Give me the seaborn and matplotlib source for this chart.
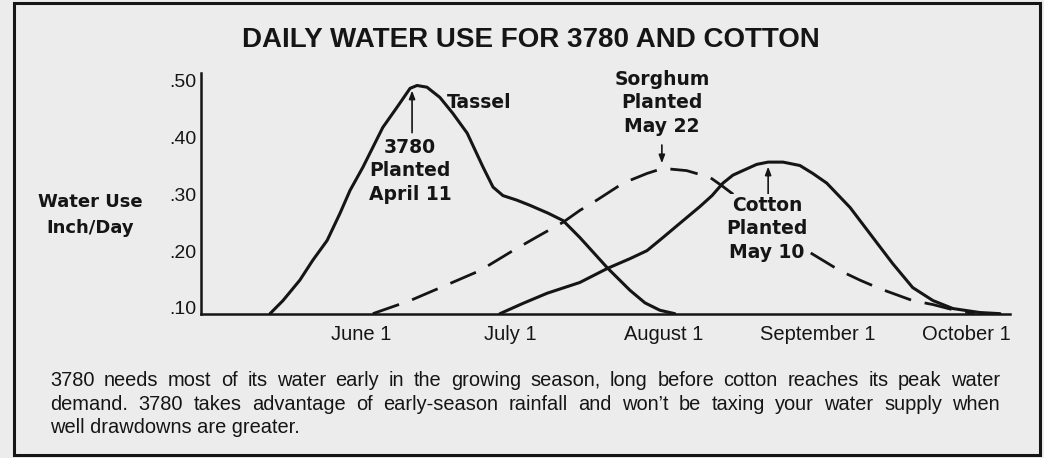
import matplotlib
matplotlib.use("Agg")
import matplotlib.pyplot as plt
import matplotlib.patches as mpatches
import seaborn as sns
import pandas as pd

# ---------------------------
# Data (day of year vs inch/day)
# ---------------------------
day_3780 = [133.7, 136.3, 139.7, 142.3, 145.2, 147.8, 149.8, 152.4, 156.4, 159.3,
            161.9, 163.3, 165.3, 167.9, 170.5, 173.4, 176.6, 178.6, 180.6, 183.4,
            186.0, 189.7, 192.7, 196.1, 201.7, 206.2, 209.2, 212.2, 215.2]
use_3780 = [0.090, 0.113, 0.149, 0.184, 0.219, 0.267, 0.307, 0.348, 0.418, 0.454,
            0.487, 0.492, 0.489, 0.471, 0.443, 0.408, 0.348, 0.313, 0.298, 0.290,
            0.281, 0.267, 0.254, 0.224, 0.170, 0.131, 0.109, 0.096, 0.090]

day_sorghum = [154.4, 161.9, 169.9, 176.0, 179.4, 182.6, 188.0, 192.7, 196.1, 199.5,
               204.8, 209.6, 212.8, 217.6, 222.3, 224.9, 233.3, 241.8, 248.4, 252.5,
               256.5, 263.1, 267.2, 271.6, 275.6]
use_sorghum = [0.090, 0.113, 0.143, 0.166, 0.184, 0.201, 0.228, 0.251, 0.272, 0.290,
               0.320, 0.337, 0.346, 0.342, 0.330, 0.314, 0.258, 0.201, 0.166, 0.149,
               0.134, 0.113, 0.106, 0.096, 0.090]

day_cotton = [180.0, 184.6, 189.5, 196.1, 201.7, 206.2, 209.6, 212.8, 216.2, 220.3,
              222.7, 224.9, 226.9, 228.9, 231.7, 234.0, 237.0, 240.4, 243.0, 245.8,
              250.5, 255.1, 259.1, 263.1, 267.2, 271.2, 276.6, 280.7]
use_cotton = [0.090, 0.108, 0.126, 0.145, 0.170, 0.187, 0.201, 0.224, 0.249, 0.279,
              0.298, 0.320, 0.334, 0.342, 0.353, 0.357, 0.357, 0.351, 0.337, 0.320,
              0.277, 0.224, 0.178, 0.136, 0.113, 0.099, 0.092, 0.090]

month_days = [152, 182, 213, 244, 274]
month_labels = ["June 1", "July 1", "August 1", "September 1", "October 1"]
y_ticks = [0.10, 0.20, 0.30, 0.40, 0.50]
y_labels = [".10", ".20", ".30", ".40", ".50"]

caption = [
    "3780 needs most of its water early in the growing season, long before cotton reaches its peak water",
    "demand. 3780 takes advantage of early-season rainfall and won\u2019t be taxing your water supply when",
    "well drawdowns are greater.",
]

# ---------------------------
# Style
# ---------------------------
sns.set_theme(style="white")
bg = "#ececec"
ink = "#151515"
plt.rcParams["font.family"] = ["Liberation Sans", "DejaVu Sans"]

W, H = 1044, 458
fig = plt.figure(figsize=(W / 100, H / 100), dpi=100, facecolor=bg)
ax = fig.add_axes([201 / W, 1 - 314 / H, (1010 - 201) / W, (314 - 73) / H])
ax.set_facecolor(bg)

df = pd.concat([
    pd.DataFrame({"day": day_3780, "use": use_3780, "crop": "3780"}),
    pd.DataFrame({"day": day_sorghum, "use": use_sorghum, "crop": "Sorghum"}),
    pd.DataFrame({"day": day_cotton, "use": use_cotton, "crop": "Cotton"}),
])

sns.lineplot(data=df[df.crop != "Sorghum"], x="day", y="use", units="crop",
             estimator=None, sort=False, color=ink, lw=2.2, ax=ax)
sns.lineplot(data=df[df.crop == "Sorghum"], x="day", y="use",
             estimator=None, sort=False, color=ink, lw=2.0, ax=ax)
ax.lines[-1].set_dashes((10, 5))
for ln in ax.lines:
    ln.set_solid_joinstyle("round")
    ln.set_dash_joinstyle("round")

ax.set_xlim(119.8, 282.7)
ax.set_ylim(0.0894, 0.514)
ax.set_xticks(month_days, month_labels, fontsize=14.5, color=ink)
ax.set_yticks(y_ticks, y_labels, fontsize=14, color=ink)
ax.tick_params(axis="x", length=0, pad=8)
ax.tick_params(axis="y", length=0, pad=3)
ax.set_xlabel("")
ax.set_ylabel("")
sns.despine(ax=ax)
for s in ["left", "bottom"]:
    ax.spines[s].set_color(ink)
    ax.spines[s].set_linewidth(1.8)

# ---------------------------
# Annotations
# ---------------------------
bold = dict(fontweight="bold", fontsize=13.5, color=ink, ha="center", va="center",
            linespacing=1.3, family=["DejaVu Sans"], zorder=5)
arrow = dict(arrowstyle="-|>,head_length=0.4,head_width=0.15", color=ink, lw=1.2)

ax.text(169.3, 0.462, "Tassel", **{**bold, "ha": "left"})
ax.text(161.9, 0.342, "3780\nPlanted\nApril 11", **bold)
ax.annotate("", xy=(162.3, 0.488), xytext=(162.3, 0.404), arrowprops=arrow)
ax.text(212.6, 0.462, "Sorghum\nPlanted\nMay 22", **bold)
ax.annotate("", xy=(212.6, 0.350), xytext=(212.6, 0.392), arrowprops=arrow)
ax.text(233.8, 0.240, "Cotton\nPlanted\nMay 10", **bold,
        bbox=dict(facecolor=bg, edgecolor="none", pad=1))
ax.annotate("", xy=(234.0, 0.354), xytext=(234.0, 0.296), arrowprops=arrow)

fig.text(531 / W, 1 - 40 / H, "DAILY WATER USE FOR 3780 AND COTTON",
         ha="center", va="center", fontsize=20, fontweight="bold", color=ink)
fig.text(90 / W, 1 - 215 / H, "Water Use\nInch/Day", ha="center", va="center",
         fontsize=13, fontweight="bold", color=ink, linespacing=1.55,
         family=["DejaVu Sans"])

# caption, justified between x=50 and x=1000 (last line left aligned)
renderer = fig.canvas.get_renderer()
left, right = 50, 1000
cap_fs = 14.4
for i, line in enumerate(caption):
    y = 1 - (386 + 23.5 * i) / H
    if i == len(caption) - 1:
        fig.text(left / W, y, line, ha="left", va="baseline", fontsize=cap_fs, color=ink)
        continue
    words = [fig.text(0, y, w, ha="left", va="baseline", fontsize=cap_fs, color=ink)
             for w in line.split()]
    widths = [t.get_window_extent(renderer).width for t in words]
    gap = (right - left - sum(widths)) / (len(words) - 1)
    x = left
    for t, w in zip(words, widths):
        t.set_x(x / W)
        x += w + gap

# frame
fig.patches.append(mpatches.Rectangle((13.5 / W, 3 / H), (1040 - 13.5) / W, (455 - 3) / H,
                                      transform=fig.transFigure, fill=False,
                                      edgecolor=ink, lw=2.2))

fig.savefig("out.png", dpi=100, facecolor=bg)
